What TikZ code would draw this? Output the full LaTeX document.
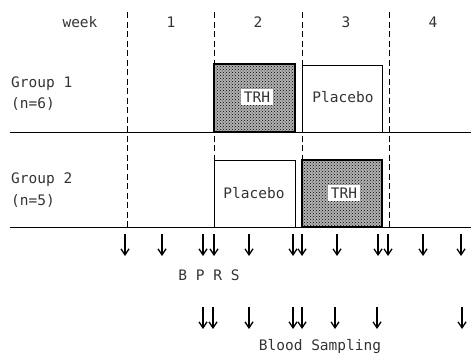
\documentclass[tikz,border=0pt]{standalone}
\usepackage{fontspec}
\setmainfont{DejaVu Sans Mono}
\usetikzlibrary{patterns,arrows.meta}
\tikzset{
  lbl/.style={font=\fontsize{14.5}{16}\selectfont, text=black!80, inner sep=1pt},
  hline/.style={line width=1pt},
  vdash/.style={line width=1pt, dash pattern=on 6pt off 3.5pt},
  trhbox/.style={draw, line width=1.3pt, fill=black!30, postaction={pattern=crosshatch dots, pattern color=black}},
  plbox/.style={draw, line width=1pt},
  whitelbl/.style={lbl, fill=white, inner sep=3pt},
  dn/.style={line width=1.3pt, -{Straight Barb[length=6pt,width=8pt]}}
}
\begin{document}
\begin{tikzpicture}[x=1pt,y=-1pt]
\useasboundingbox (0,0) rectangle (471,359);
% week header
\node[lbl] (wk) at (80,22) {week};
\node[lbl] (w1) at (171,22) {1};
\node[lbl] (w2) at (258,22) {2};
\node[lbl] (w3) at (346,22) {3};
\node[lbl] (w4) at (433,22) {4};
% group labels
\node[lbl, anchor=west] (g1) at (10,84) {Group 1};
\node[lbl, anchor=west] (n1) at (10,104) {(n=6)};
\node[lbl, anchor=west] (g2) at (10,180) {Group 2};
\node[lbl, anchor=west] (n2) at (10,201) {(n=5)};
% boxes
\draw[trhbox] (214,64) rectangle (295,132);
\draw[plbox] (302,65) rectangle (382,132);
\draw[plbox] (214,160) rectangle (295,227);
\draw[trhbox] (302,160) rectangle (382,227);
\node[whitelbl] (t1) at (257,97) {TRH};
\node[lbl] (p1) at (343,97) {Placebo};
\node[lbl] (p2) at (254,193) {Placebo};
\node[whitelbl] (t2) at (344,193) {TRH};
% horizontal lines
\draw[hline] (10,132) -- (471,132);
\draw[hline] (10,227) -- (471,227);
% dashed week separators
\foreach \x in {127,214,302,389}{
  \draw[vdash] (\x,12) -- (\x,227);
}
% BPRS arrows
\foreach \x in {125,162,203,214,249,293,302,337,378,388,423,461}{
  \coordinate (a\x) at (\x,234);
  \coordinate (b\x) at (\x,256);
  \draw[dn] (a\x) -- (b\x);
}
\node[lbl] (bprs) at (209,275) {B P R S};
% blood sampling arrows
\foreach \x in {203,213,249,293,302,335,377,462}{
  \coordinate (c\x) at (\x,307);
  \coordinate (d\x) at (\x,329);
  \draw[dn] (c\x) -- (d\x);
}
\node[lbl] (bs) at (320,347) {Blood Sampling};
\end{tikzpicture}
\end{document}
